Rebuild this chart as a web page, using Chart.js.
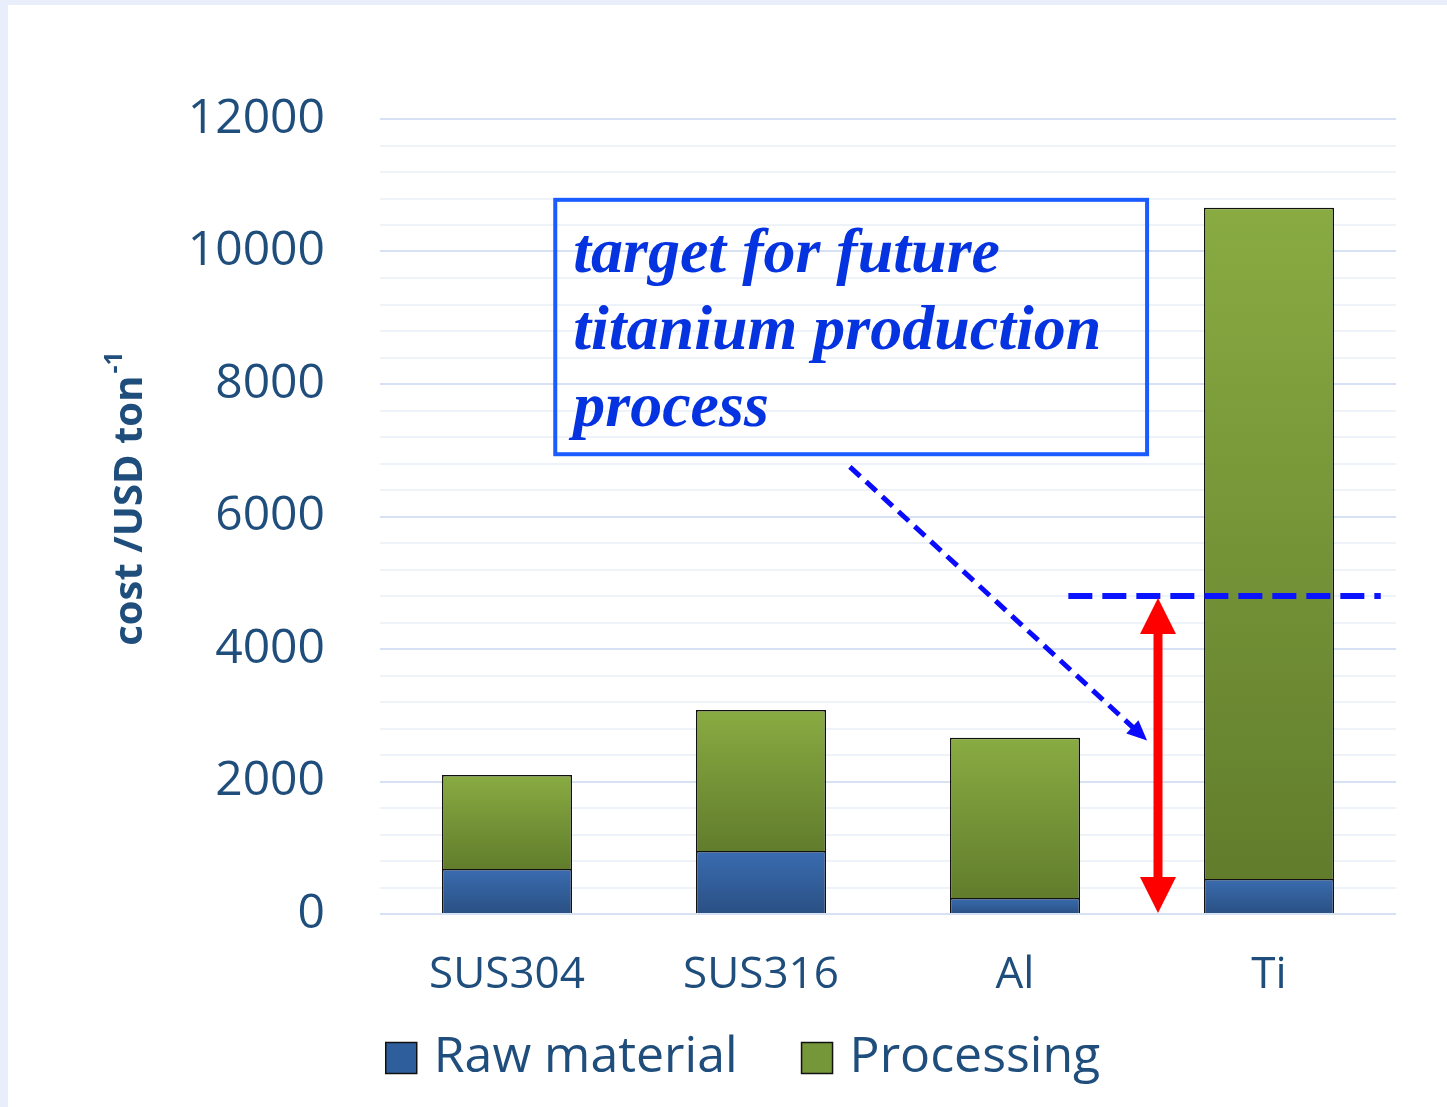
<!DOCTYPE html>
<html>
<head>
<meta charset="utf-8">
<script src="https://cdn.jsdelivr.net/npm/chart.js@4.4.1/dist/chart.umd.min.js"></script>
<style>
  html, body { margin: 0; padding: 0; background: #ffffff; }
  canvas { display: block; }
</style>
</head>
<body>
<canvas id="cost_chart" width="1447" height="1107"></canvas>
<script>
// data
const categories = ['SUS304', 'SUS316', 'Al', 'Ti']
const rawMaterial = [680, 950, 240, 530]
const processing = [1420, 2130, 2420, 10130]
const yTickLabels = [0, 2000, 4000, 6000, 8000, 10000, 12000]
const targetCost = 4800
const noteLines = ['target for future', 'titanium production', 'process']

const textBlue = '#1f4e7c'

// vertical gradient per bar segment
function barFill(topColor, bottomColor, lowerStack) {
    return function (ctx) {
        const y = ctx.chart.scales.y
        const i = ctx.dataIndex
        if (!y || i === undefined) return topColor
        const base = lowerStack ? lowerStack[i] : 0
        const val = ctx.dataset.data[i]
        const y0 = y.getPixelForValue(base + val)
        const y1 = y.getPixelForValue(base)
        if (!isFinite(y0) || !isFinite(y1) || y0 === y1) return topColor
        const g = ctx.chart.ctx.createLinearGradient(0, y0, 0, y1)
        g.addColorStop(0, topColor)
        g.addColorStop(1, bottomColor)
        return g
    }
}

const framePlugin = {
    id: 'frame',
    beforeDraw(chart) {
        const c = chart.ctx
        c.save()
        c.fillStyle = '#e8effb'
        c.fillRect(0, 0, chart.width, chart.height)
        c.fillStyle = '#ffffff'
        c.fillRect(8, 5, chart.width - 8, chart.height - 5)
        c.restore()
    }
}

const yTitlePlugin = {
    id: 'yTitle',
    afterDraw(chart) {
        const c = chart.ctx
        const area = chart.chartArea
        c.save()
        c.translate(area.left - 252, (area.top + area.bottom) / 2 - 17)
        c.rotate(-Math.PI / 2)
        c.fillStyle = textBlue
        c.textBaseline = 'alphabetic'
        const main = 'cost /USD ton'
        c.font = 'bold 40px "Open Sans"'
        const w1 = c.measureText(main).width
        c.font = 'bold 25px "Open Sans"'
        const w2 = c.measureText('-1').width
        const start = -(w1 + w2) / 2
        c.font = 'bold 40px "Open Sans"'
        c.fillText(main, start, 14)
        c.font = 'bold 25px "Open Sans"'
        c.fillText('-1', start + w1 + 2, -6)
        c.restore()
    }
}

// legend drawn from the datasets, spaced like the original
const legendPlugin = {
    id: 'sideLegend',
    afterDraw(chart) {
        const c = chart.ctx
        const sets = chart.data.datasets
        const box = 31, gapText = 17, gapItem = 64
        c.save()
        c.font = '50px "Open Sans"'
        c.textBaseline = 'middle'
        const widths = sets.map(d => box + gapText + c.measureText(d.label).width)
        const total = widths.reduce((a, b) => a + b, 0) + gapItem * (sets.length - 1)
        let x = 743 - total / 2
        const cy = 1058
        sets.forEach((d, i) => {
            c.fillStyle = d.legendColor
            c.fillRect(x, cy - box / 2, box, box)
            c.strokeStyle = '#111111'
            c.lineWidth = 1.5
            c.strokeRect(x, cy - box / 2, box, box)
            c.fillStyle = textBlue
            c.fillText(d.label, x + box + gapText, cy)
            x += widths[i] + gapItem
        })
        c.restore()
    }
}

function arrowHead(c, x, y, angle, len, half) {
    c.save()
    c.translate(x, y)
    c.rotate(angle)
    c.beginPath()
    c.moveTo(0, 0)
    c.lineTo(-len, -half)
    c.lineTo(-len, half)
    c.closePath()
    c.fill()
    c.restore()
}

const notePlugin = {
    id: 'note',
    afterDatasetsDraw(chart) {
        const c = chart.ctx
        const xs = chart.scales.x
        const ys = chart.scales.y
        const px = v => xs.getPixelForValue(v)
        const py = v => ys.getPixelForValue(v)
        c.save()

        // target level
        c.strokeStyle = '#0a14ff'
        c.lineWidth = 6
        c.setLineDash([24, 10])
        c.beginPath()
        c.moveTo(px(2.21), py(targetCost))
        c.lineTo(px(3.44), py(targetCost))
        c.stroke()

        // red double arrow
        const ax = px(2.563)
        const aTop = py(targetCost) + 2
        const aBot = py(0) - 1
        c.setLineDash([])
        c.strokeStyle = '#ff0000'
        c.fillStyle = '#ff0000'
        c.lineWidth = 9
        c.beginPath()
        c.moveTo(ax, aTop + 30)
        c.lineTo(ax, aBot - 30)
        c.stroke()
        arrowHead(c, ax, aTop, -Math.PI / 2, 36, 18)
        arrowHead(c, ax, aBot, Math.PI / 2, 36, 18)

        // dashed pointer from the note
        const x1 = px(1.35), y1 = py(6750)
        const x2 = px(2.52), y2 = py(2620)
        const ang = Math.atan2(y2 - y1, x2 - x1)
        c.strokeStyle = '#0a0aff'
        c.fillStyle = '#0a0aff'
        c.lineWidth = 5
        c.setLineDash([14, 8])
        c.beginPath()
        c.moveTo(x1, y1)
        c.lineTo(x2 - 16 * Math.cos(ang), y2 - 16 * Math.sin(ang))
        c.stroke()
        c.setLineDash([])
        arrowHead(c, x2, y2, ang, 20, 9)

        // note box
        const bx = px(0.19), by = py(10780)
        const bw = px(2.52) - bx, bh = py(6940) - by
        c.strokeStyle = '#1a5cff'
        c.lineWidth = 4
        c.strokeRect(bx, by, bw, bh)
        c.fillStyle = '#0633e0'
        c.font = 'italic bold 64px "Liberation Serif"'
        c.textBaseline = 'alphabetic'
        noteLines.forEach((t, k) => c.fillText(t, bx + 18, by + 72 + k * 77))

        c.restore()
    }
}

window.onload = function () {
    let context = document.querySelector('#cost_chart').getContext('2d')
    new Chart(context, {
        type: 'bar',
        data: {
            labels: categories,
            datasets: [{
                label: 'Raw material',
                data: rawMaterial,
                backgroundColor: barFill('#3a6cb0', '#2a5084', null),
                borderColor: '#111111',
                borderWidth: 1.5,
                legendColor: '#2f5e9c',
            }, {
                label: 'Processing',
                data: processing,
                backgroundColor: barFill('#89ab42', '#617d2c', rawMaterial),
                borderColor: '#111111',
                borderWidth: 1.5,
                legendColor: '#76963a',
            }],
        },
        options: {
            responsive: false,
            animation: false,
            layout: { padding: { left: 0, right: 51, top: 119, bottom: 83 } },
            datasets: {
                bar: { categoryPercentage: 1, barPercentage: 0.512 }
            },
            scales: {
                x: {
                    stacked: true,
                    grid: { display: false },
                    border: { display: false },
                    ticks: { color: textBlue, padding: 27, font: { family: 'Open Sans', size: 44 } },
                    afterFit(scale) { scale.height = 110 },
                },
                y: {
                    stacked: true,
                    min: 0,
                    max: 12000,
                    border: { display: false },
                    grid: {
                        drawTicks: false,
                        lineWidth: 2,
                        color: ctx => (ctx.tick && yTickLabels.includes(ctx.tick.value)) ? '#d6e2f4' : '#eef3f9',
                    },
                    ticks: {
                        stepSize: 400,
                        autoSkip: false,
                        padding: 55,
                        color: textBlue,
                        font: { family: 'Open Sans', size: 48 },
                        callback: v => yTickLabels.includes(v) ? String(v) : '',
                    },
                    afterFit(scale) { scale.width = 380 },
                },
            },
            plugins: {
                tooltip: { enabled: false },
                legend: { display: false },
            },
        },
        plugins: [framePlugin, yTitlePlugin, notePlugin, legendPlugin],
    })
}
</script>
</body>
</html>
